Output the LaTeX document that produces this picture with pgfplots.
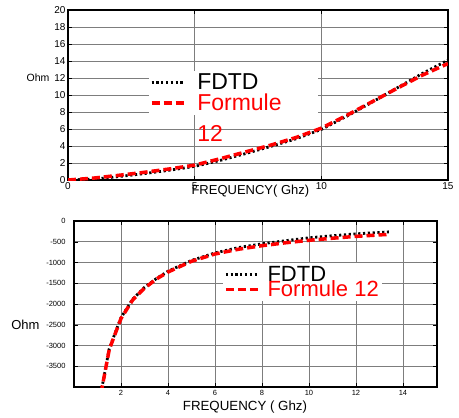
\documentclass[border=0pt]{standalone}
\usepackage{amsmath}
\usepackage{fontspec}
\setmainfont{Liberation Sans}
\usepackage{pgfplots}
\pgfplotsset{compat=1.18}
\definecolor{gridgray}{RGB}{125,125,125}
\begin{document}
\begin{tikzpicture}
\pgfplotsset{
  every axis/.append style={
    scale only axis, axis line style={black, line width=1.3pt},
    grid=major, major grid style={gridgray, line width=0.6pt},
    tick style={black, line width=0.5pt}, tick align=inside,
    /pgf/number format/assume math mode=true,
    legend cell align=left,
    legend image code/.code={\draw[##1] (0pt,0pt) -- (33pt,0pt);},
  },
  fdtd/.style={black, line width=2.8pt, dash pattern=on 2.2pt off 2.6pt},
  form/.style={red, line width=3.5pt, dash pattern=on 8pt off 4pt},
}
% ---- upper panel: real part ----
\begin{axis}[at={(68pt,-180pt)}, anchor=south west, width=380pt, height=170pt,
  xmin=0, xmax=15, ymin=0, ymax=20,
  xtick={0,5,10,15}, ytick={0,2,...,20},
  ticklabel style={font=\fontsize{10}{10}\selectfont},
  xticklabel style={yshift=1pt}, yticklabel style={xshift=1pt},
  xlabel={FREQUENCY( Ghz)},
  every axis x label/.style={at={(rel axis cs:0.48,0)}, anchor=north, yshift=-2pt,
    font=\fontsize{13}{13}\selectfont},
  ylabel={Ohm},
  every axis y label/.style={at={(rel axis cs:0,0.6)}, anchor=east, xshift=-15pt,
    font=\fontsize{10.5}{10.5}\selectfont},
  legend style={at={(rel axis cs:0.212,0.645)}, anchor=north west, fill=white, draw=none,
    font=\fontsize{23}{23}\selectfont, inner sep=1pt, row sep=-1pt, column sep=9pt},
]
\addplot[fdtd] coordinates {(0,0)(1,0.1)(2,0.4)(3,0.75)(4,1.15)(5,1.6)(6,2.3)(7,3.1)
  (8,3.95)(9,4.85)(10,5.95)(11,7.5)(12,9.15)(13,10.85)(14,12.55)(15,14.1)};
\addplot[form] coordinates {(0,0)(1,0.22)(2,0.55)(3,0.9)(4,1.3)(5,1.75)(6,2.5)(7,3.3)
  (8,4.1)(9,5.0)(10,6.1)(11,7.6)(12,9.2)(13,10.8)(14,12.35)(15,13.7)};
\legend{\makebox[118pt][l]{FDTD},
  \textcolor{red}{\smash[b]{\begin{tabular}[t]{@{}l@{}}Formule\\[8pt]12\end{tabular}}}}
\end{axis}
% ---- lower panel: imaginary part ----
\begin{axis}[at={(74pt,-387pt)}, anchor=south west, width=363pt, height=166pt,
  xmin=0, xmax=15.45, ymin=-4000, ymax=0,
  xtick={2,4,...,14}, ytick={-3500,-3000,...,0},
  ticklabel style={font=\fontsize{7.5}{7.5}\selectfont},
  yticklabel style={xshift=-5pt},
  scaled y ticks=false,
  y tick label style={/pgf/number format/1000 sep={}},
  xlabel={FREQUENCY ( Ghz)},
  every axis x label/.style={at={(rel axis cs:0.471,0)}, anchor=north, yshift=-10pt,
    font=\fontsize{13.3}{13.3}\selectfont},
  ylabel={Ohm},
  every axis y label/.style={at={(rel axis cs:0,0.372)}, anchor=east, xshift=-31pt,
    font=\fontsize{13}{13}\selectfont},
  legend style={at={(rel axis cs:0.41,0.747)}, anchor=north west, fill=white, draw=none,
    font=\fontsize{22}{22}\selectfont, inner sep=1pt, row sep=-6pt, column sep=5pt},
]
\addplot[fdtd] coordinates {(1.15,-4150)(1.2,-3980)(1.5,-3080)(1.75,-2700)(2,-2330)(2.5,-1880)
  (3,-1600)(3.5,-1390)(4,-1210)(5,-950)(6,-770)(7,-640)(8,-550)(9,-475)(10,-405)
  (11,-355)(12,-310)(13,-275)(13.4,-262)};
\addplot[form] coordinates {(1.15,-4150)(1.2,-4000)(1.5,-3100)(1.75,-2720)(2,-2350)(2.5,-1900)
  (3,-1620)(3.5,-1400)(4,-1230)(5,-970)(6,-795)(7,-680)(8,-595)(9,-525)(10,-465)
  (11,-415)(12,-370)(13,-335)(13.4,-322)};
\legend{FDTD, \textcolor{red}{Formule 12}}
\end{axis}
\pgfresetboundingbox
\path (0pt,0pt) rectangle (459pt,-418pt);
\end{tikzpicture}
\end{document}
